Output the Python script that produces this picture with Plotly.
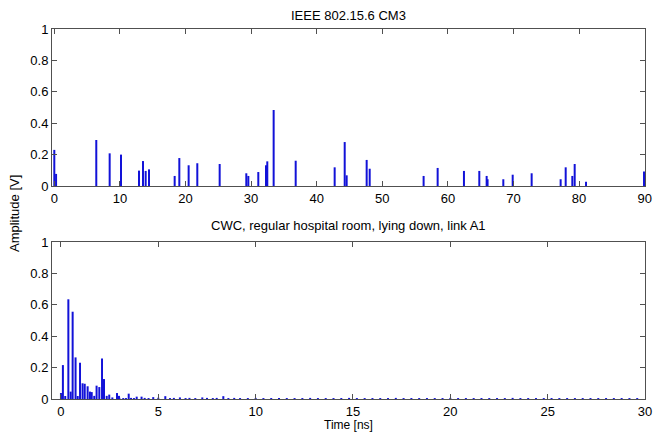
import plotly.graph_objects as go

# ---- data: IEEE 802.15.6 CM3 (top) ----
cm3_time = [0.0, 0.27, 6.4, 8.44, 10.17, 12.91, 13.52, 13.93, 14.44, 18.35, 19.06, 20.48,
            21.8, 25.21, 29.27, 29.58, 31.1, 32.27, 32.47, 33.44, 36.8, 42.74, 44.27, 44.57,
            47.62, 48.08, 56.3, 58.44, 62.45, 64.79, 65.91, 66.05, 68.45, 69.88, 72.77,
            77.19, 77.96, 78.97, 79.33, 81.06, 89.9]
cm3_amp = [0.23, 0.077, 0.293, 0.208, 0.2, 0.098, 0.159, 0.096, 0.106, 0.064, 0.178, 0.132,
           0.145, 0.14, 0.081, 0.064, 0.089, 0.132, 0.157, 0.484, 0.161, 0.119, 0.28, 0.068,
           0.166, 0.11, 0.064, 0.115, 0.096, 0.096, 0.064, 0.043, 0.043, 0.072, 0.081,
           0.043, 0.119, 0.064, 0.14, 0.027, 0.093]

# ---- data: CWC hospital room, lying down, link A1 (bottom) ----
cwc_time = [0.0, 0.10, 0.22, 0.38, 0.50, 0.60, 0.75, 0.86, 0.98, 1.11, 1.22, 1.37, 1.49,
            1.58, 1.71, 1.83, 1.97, 2.11, 2.21, 2.35, 2.48, 2.64, 2.88, 2.98, 3.20, 3.34,
            3.48, 3.89, 4.14, 4.74, 5.36, 6.11, 7.26, 8.34]
cwc_amp = [0.038, 0.216, 0.019, 0.635, 0.047, 0.556, 0.265, 0.019, 0.231, 0.1, 0.097, 0.081,
           0.047, 0.044, 0.02, 0.085, 0.076, 0.258, 0.127, 0.02, 0.028, 0.01, 0.038, 0.02,
           0.006, 0.006, 0.034, 0.015, 0.015, 0.012, 0.018, 0.01, 0.01, 0.018]
# weak tail components
tail_time = [3.0, 3.6, 3.75, 4.3, 4.5, 5.0, 5.6, 5.8, 6.4, 6.6, 6.9, 7.5, 7.8, 8.0, 8.6, 8.9,
             9.2, 9.6, 10.0, 10.4, 10.8, 11.2, 11.6, 12.0, 12.4, 12.8, 13.2, 13.6, 14.0, 14.4,
             14.8, 15.2, 15.6, 16.0, 16.4, 16.8, 17.2, 17.6, 18.0, 18.4, 18.8, 19.2, 19.6,
             20.0, 20.4, 20.8, 21.2, 21.6, 22.0, 22.4, 22.8, 23.2, 23.6, 24.0, 24.4, 24.8,
             25.2, 25.6, 26.0, 26.4, 26.8, 27.2, 27.6, 28.0, 28.4, 28.8, 29.2, 29.6]
tail_amp = [0.008, 0.007, 0.006, 0.007, 0.006, 0.008, 0.006, 0.007, 0.006, 0.007, 0.006, 0.007,
            0.006, 0.007, 0.006, 0.007, 0.006, 0.006, 0.007, 0.006, 0.006, 0.007, 0.006, 0.006,
            0.006, 0.007, 0.006, 0.006, 0.006, 0.006, 0.007, 0.006, 0.006, 0.006, 0.006, 0.006,
            0.007, 0.006, 0.006, 0.006, 0.006, 0.006, 0.006, 0.007, 0.006, 0.006, 0.006, 0.006,
            0.006, 0.006, 0.006, 0.007, 0.006, 0.006, 0.006, 0.006, 0.006, 0.006, 0.006, 0.006,
            0.006, 0.006, 0.006, 0.006, 0.006, 0.006, 0.006, 0.006]

top_xticks = [0, 10, 20, 30, 40, 50, 60, 70, 80, 90]
bot_xticks = [0, 5, 10, 15, 20, 25, 30]
yticks = [0, 0.2, 0.4, 0.6, 0.8, 1]
ytick_text = ["0", "0.2", "0.4", "0.6", "0.8", "1"]


def stems(ts, amps):
    xs, ys = [], []
    for t, a in zip(ts, amps):
        xs += [t, t, None]
        ys += [0, a, None]
    return xs, ys


STEM = "#1212d8"
FONT = "Liberation Sans, Arial, sans-serif"

fig = go.Figure()
x1, y1 = stems(cm3_time, cm3_amp)
fig.add_trace(go.Scatter(x=x1, y=y1, mode="lines", line=dict(color=STEM, width=2),
                         xaxis="x", yaxis="y", showlegend=False, hoverinfo="skip"))
x2, y2 = stems(cwc_time + tail_time, cwc_amp + tail_amp)
fig.add_trace(go.Scatter(x=x2, y=y2, mode="lines", line=dict(color=STEM, width=2),
                         xaxis="x2", yaxis="y2", showlegend=False, hoverinfo="skip"))

axis_common = dict(showline=True, mirror="ticks", linecolor="#505050", linewidth=1,
                   ticks="inside", ticklen=5, tickcolor="#505050", showgrid=False,
                   zeroline=False, automargin=False,
                   tickfont=dict(family=FONT, size=13, color="black"))

TOP_DOM = [(399 - 186) / 370, 1.0]
BOT_DOM = [0.0, (399 - 242) / 370]

# The page body adds an 8px offset, so the figure is sized to fit the window.
fig.update_layout(
    template="none",
    width=653, height=424,
    margin=dict(l=44, r=16, t=21, b=33, autoexpand=False),
    paper_bgcolor="white", plot_bgcolor="white",
    font=dict(family=FONT, size=13, color="black"),
    xaxis=dict(domain=[0, 1], anchor="y", range=[-0.35, 90.05], tickvals=top_xticks,
               **axis_common),
    yaxis=dict(domain=TOP_DOM, anchor="x", range=[0, 1], tickvals=yticks,
               ticktext=ytick_text, **axis_common),
    xaxis2=dict(domain=[0, 1], anchor="y2", range=[-0.46, 30], tickvals=bot_xticks,
                **axis_common),
    yaxis2=dict(domain=BOT_DOM, anchor="x2", range=[0, 1], tickvals=yticks,
                ticktext=ytick_text, **axis_common),
    annotations=[
        dict(text="IEEE 802.15.6 CM3", xref="paper", yref="paper", x=0.5, y=1,
             yshift=4, xanchor="center", yanchor="bottom", showarrow=False,
             font=dict(family=FONT, size=13)),
        dict(text="CWC, regular hospital room, lying down, link A1", xref="paper",
             yref="paper", x=0.5, y=BOT_DOM[1], yshift=7, xanchor="center",
             yanchor="bottom", showarrow=False, font=dict(family=FONT, size=13)),
        dict(text="Time [ns]", xref="paper", yref="paper", x=0.5, y=0, yshift=-17,
             xanchor="center", yanchor="top", showarrow=False,
             font=dict(family=FONT, size=12)),
        dict(text="Amplitude [V]", xref="paper", yref="paper", x=0, xshift=-38,
             y=(TOP_DOM[0] + BOT_DOM[1]) / 2, textangle=-90, xanchor="center",
             yanchor="middle", showarrow=False, font=dict(family=FONT, size=13)),
    ],
)

fig.write_html("out.html")
